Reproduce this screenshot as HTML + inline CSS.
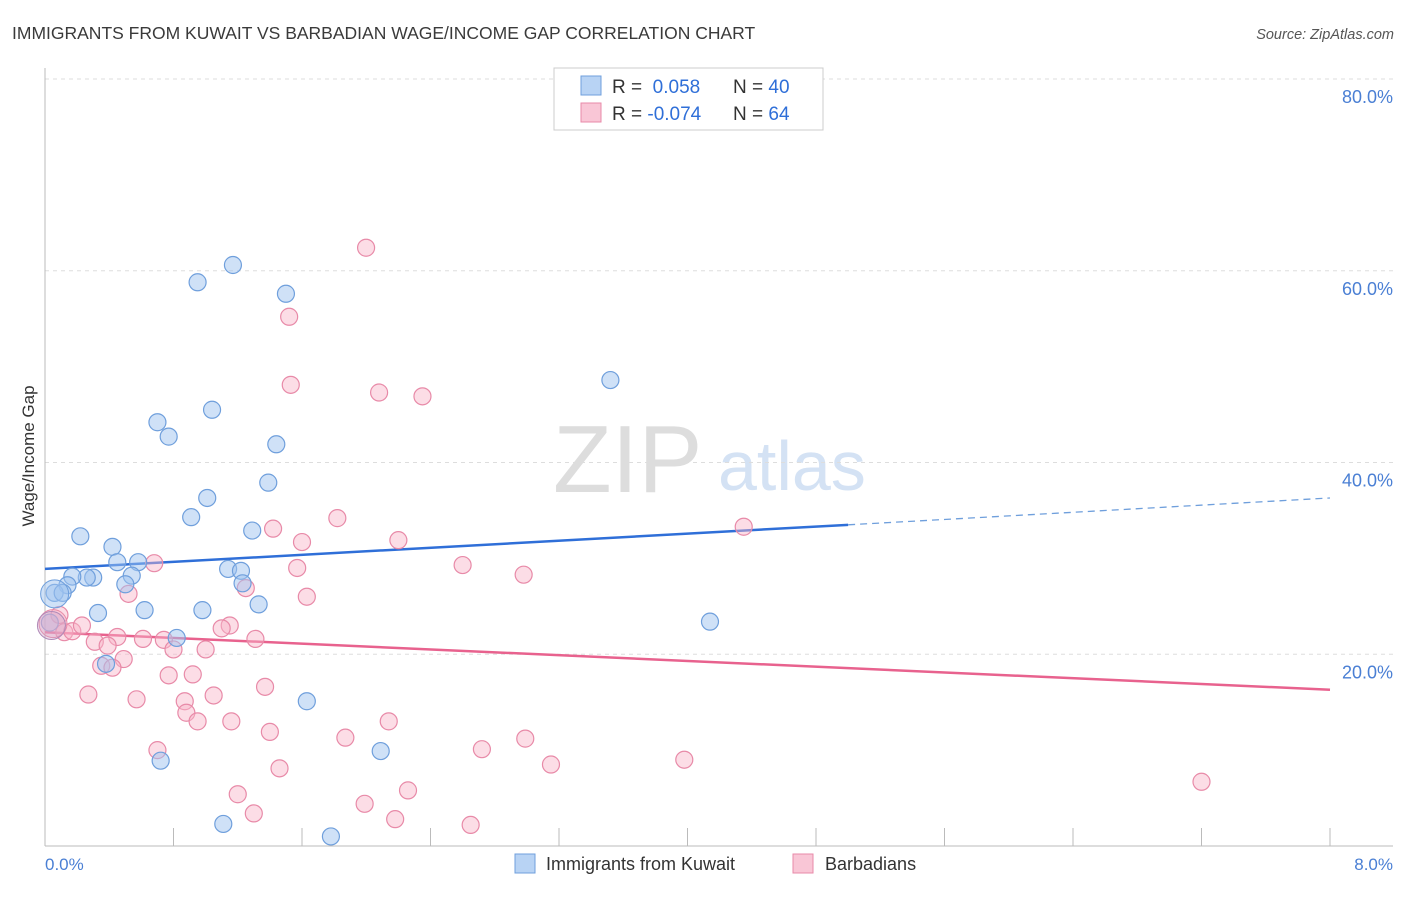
<!DOCTYPE html>
<html><head><meta charset="utf-8"><style>
body{margin:0;background:#fff;font-family:"Liberation Sans",sans-serif;}
svg text{font-family:"Liberation Sans",sans-serif;}
</style></head><body>
<svg id="chart" width="1406" height="892" xmlns="http://www.w3.org/2000/svg">
<text x="12" y="39" font-size="17.5" fill="#3a3a3a">IMMIGRANTS FROM KUWAIT VS BARBADIAN WAGE/INCOME GAP CORRELATION CHART</text>
<text x="1394" y="39" font-size="14.5" fill="#555" font-style="italic" text-anchor="end">Source: ZipAtlas.com</text>
<g>
<text x="553" y="492" font-size="96" fill="#ddd" font-family="Liberation Serif,serif">ZIP</text>
<text x="718" y="490" font-size="70" fill="#d4e2f4">atlas</text>
</g>
<g id="grid"></g>
<g id="axes"></g>
<g id="lines"></g>
<g id="pts"></g>
<text transform="translate(34,456) rotate(-90)" font-size="17" fill="#333" text-anchor="middle">Wage/Income Gap</text>
<text x="45" y="870" font-size="17" fill="#4a7fd4">0.0%</text>
<text x="1393" y="870" font-size="17" fill="#4a7fd4" text-anchor="end">8.0%</text>
<g>
<rect x="554" y="68" width="269" height="62" fill="#fff" stroke="#ccc"/>
<rect x="581" y="76" width="20" height="19" fill="#b8d3f4" stroke="#6f9fdc"/>
<rect x="581" y="103" width="20" height="19" fill="#f9c6d6" stroke="#e88aa8"/>
<text x="612" y="93" font-size="19" fill="#333">R = <tspan fill="#2f6fd8">&#160;0.058</tspan><tspan x="733">N = </tspan><tspan fill="#2f6fd8">40</tspan></text>
<text x="612" y="120" font-size="19" fill="#333">R = <tspan fill="#2f6fd8">-0.074</tspan><tspan x="733">N = </tspan><tspan fill="#2f6fd8">64</tspan></text>
</g>
<g>
<rect x="515" y="854" width="20" height="19" fill="#b8d3f4" stroke="#6f9fdc"/>
<text x="546" y="870" font-size="18" fill="#333">Immigrants from Kuwait</text>
<rect x="793" y="854" width="20" height="19" fill="#f9c6d6" stroke="#e88aa8"/>
<text x="825" y="870" font-size="18" fill="#333">Barbadians</text>
</g>
</svg>
<script>
const yTicks=[20,40,60,80];
const xTickVals=[0,0.8,1.6,2.4,3.2,4.0,4.8,5.6,6.4,7.2,8.0];
const kuwaitX=[1.17,0.95,1.50,3.52,1.04,0.70,0.77,1.44,1.39,1.01,0.91,0.22,1.29,0.42,0.45,0.58,1.14,1.22,0.54,0.30,0.26,0.17,0.14,0.50,1.23,0.06,0.11,1.33,0.33,0.62,0.98,0.82,4.14,0.03,0.38,1.63,2.09,0.72,1.11,1.78];
const kuwaitY=[60.6,58.8,57.6,48.6,45.5,44.2,42.7,41.9,37.9,36.3,34.3,32.3,32.9,31.2,29.6,29.6,28.9,28.7,28.2,28.0,28.0,28.1,27.2,27.3,27.4,26.4,26.4,25.2,24.3,24.6,24.6,21.7,23.4,23.3,19.0,15.1,9.9,8.9,2.3,1.0];
const barbX=[1.999,1.52,1.53,2.08,2.35,1.82,1.42,4.35,2.20,1.60,0.68,2.60,2.98,1.57,0.52,1.25,1.63,0.09,0.12,0.17,0.23,0.31,0.45,0.61,0.74,1.15,1.10,1.31,0.80,1.00,0.39,0.49,0.35,0.42,0.77,0.92,0.27,0.57,0.87,1.05,1.37,0.88,0.95,1.16,2.14,1.40,1.87,2.99,2.72,0.70,3.15,3.98,1.46,7.20,1.20,2.26,1.99,1.30,2.18,2.65];
const barbY=[62.4,55.2,48.1,47.3,46.9,34.2,33.1,33.3,31.9,31.7,29.5,29.3,28.3,29.0,26.3,26.9,26.0,24.1,22.3,22.4,23.0,21.3,21.8,21.6,21.5,23.0,22.7,21.6,20.5,20.5,20.9,19.5,18.8,18.6,17.8,17.9,15.8,15.3,15.1,15.7,16.6,13.9,13.0,13.0,13.0,11.9,11.3,11.2,10.1,10.0,8.5,9.0,8.1,6.7,5.4,5.8,4.4,3.4,2.8,2.2];
const kuwaitTrend=[[0,28.9],[5.0,33.5],[8.0,36.3]];
const barbTrend=[[0,22.3],[8.0,16.3]];
const L=45,R=1330,T=79,B=846;
const sx=v=>L+v/8*(R-L), sy=v=>B-v/80*(B-T);
const NS="http://www.w3.org/2000/svg";
function mk(tag,attrs,parent){const e=document.createElementNS(NS,tag);for(const k in attrs)e.setAttribute(k,attrs[k]);parent.appendChild(e);return e;}
const grid=document.getElementById('grid'),axes=document.getElementById('axes'),lines=document.getElementById('lines'),pts=document.getElementById('pts');
yTicks.forEach(t=>{
 const g=mk('line',{x1:L,x2:1393,y1:sy(t),y2:sy(t),stroke:'#ddd','stroke-dasharray':'4,4'},grid);
 
 
 const tx=mk('text',{x:1393,y:sy(t)+24,'font-size':18,fill:'#4a7fd4','text-anchor':'end'},grid);
 tx.textContent=t.toFixed(1)+'%';
 
 
});
mk('line',{x1:L,x2:L,y1:68,y2:B,stroke:'#bbb'},axes);
mk('line',{x1:L,x2:1393,y1:B,y2:B,stroke:'#bbb'},axes);
xTickVals.forEach(v=>{
 const t=mk('line',{x1:sx(v),x2:sx(v),y1:B,y2:828,stroke:'#bbb'},axes);
 
 
});
function drawPts(xs,ys,fill,stroke,name){
 xs.forEach((x,i)=>{
  const c=mk('circle',{cx:sx(x),cy:sy(ys[i]),r:8.5,fill:fill,stroke:stroke,'stroke-width':1.2},pts);
  
  
 });
}
drawPts(barbX,barbY,'rgba(248,180,200,0.45)','#e88aa8','barbadian-point');
drawPts(kuwaitX,kuwaitY,'rgba(160,196,240,0.5)','#6f9fdc','kuwait-point');
[[0.05,23.2,'rgba(248,180,200,0.45)','#e88aa8'],[0.06,26.3,'rgba(160,196,240,0.5)','#6f9fdc'],[0.04,23.0,'rgba(200,160,200,0.35)','#b08ab8']].forEach(b=>{
 const c=mk('circle',{cx:sx(b[0]),cy:sy(b[1]),r:14,fill:b[2],stroke:b[3]},pts);
 
 
});
const k1=mk('line',{x1:sx(kuwaitTrend[0][0]),y1:sy(kuwaitTrend[0][1]),x2:sx(kuwaitTrend[1][0]),y2:sy(kuwaitTrend[1][1]),stroke:'#2f6fd8','stroke-width':2.5},lines);


const k2=mk('line',{x1:sx(kuwaitTrend[1][0]),y1:sy(kuwaitTrend[1][1]),x2:sx(kuwaitTrend[2][0]),y2:sy(kuwaitTrend[2][1]),stroke:'#6f9fdc','stroke-width':1.3,'stroke-dasharray':'7,5'},lines);


const b1=mk('line',{x1:sx(barbTrend[0][0]),y1:sy(barbTrend[0][1]),x2:sx(barbTrend[1][0]),y2:sy(barbTrend[1][1]),stroke:'#e8628e','stroke-width':2.5},lines);


</script>
</body></html>
